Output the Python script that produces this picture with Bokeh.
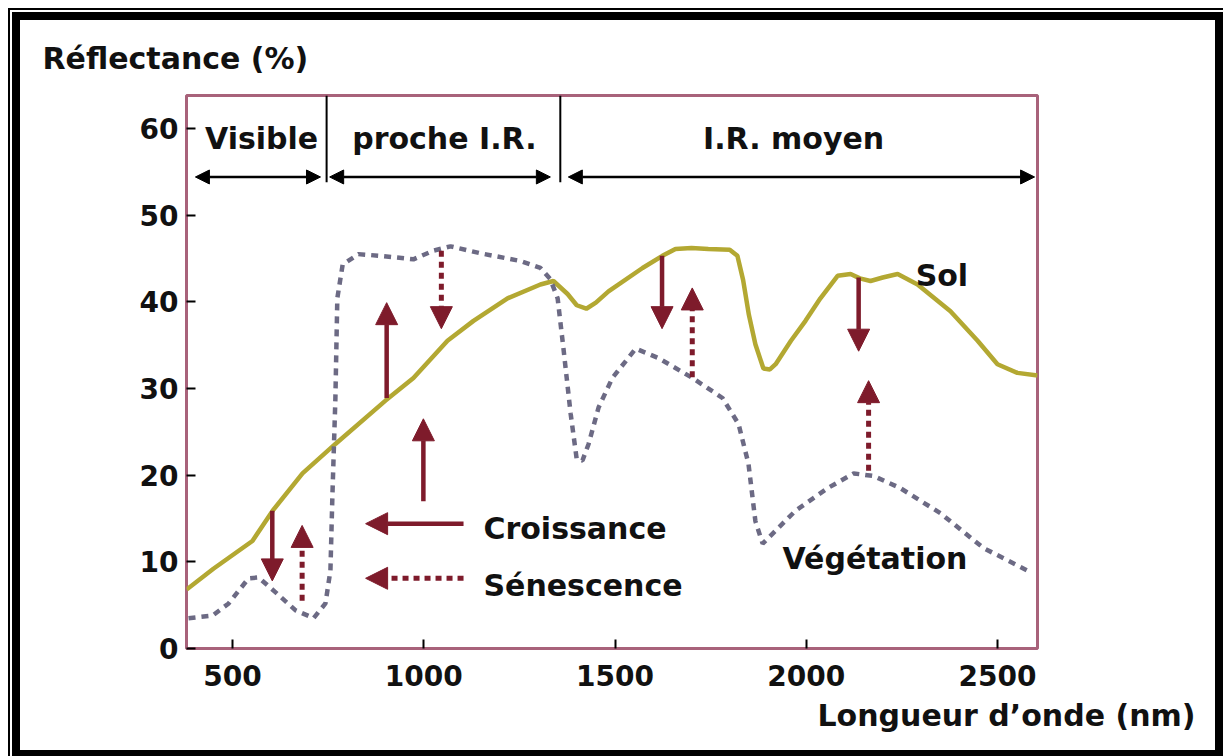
from bokeh.plotting import figure
from bokeh.models import Arrow, NormalHead, Label, ColumnDataSource, FixedTicker, Range1d, Title
from bokeh.embed import file_html
from bokeh.resources import INLINE

# ---- data ----
sol_x = [380, 450, 552, 605, 683, 769, 900, 973, 1062, 1130, 1219, 1305, 1339, 1376,
         1400, 1425, 1450, 1483, 1572, 1624, 1658, 1700, 1744, 1800, 1820, 1835, 1850,
         1867, 1888, 1905, 1920, 1960, 1998, 2037, 2082, 2116, 2140, 2168, 2200, 2239,
         2291, 2377, 2448, 2500, 2552, 2605]
sol_y = [6.8, 9.2, 12.4, 15.9, 20.2, 23.6, 28.6, 31.2, 35.5, 37.8, 40.4, 42.0, 42.4, 40.9,
         39.6, 39.2, 39.9, 41.2, 43.9, 45.3, 46.1, 46.2, 46.1, 46.0, 45.3, 42.5, 38.5,
         35.1, 32.3, 32.2, 32.8, 35.5, 37.8, 40.4, 43.0, 43.2, 42.7, 42.4, 42.8, 43.2,
         42.0, 38.9, 35.5, 32.8, 31.8, 31.5]

veg_x = [385, 448, 490, 542, 568, 612, 665, 712, 743, 756, 761, 769, 774, 788, 829, 887,
         973, 1025, 1070, 1148, 1253, 1305, 1331, 1350, 1365, 1384, 1400, 1415, 1431, 1457,
         1493, 1554, 1614, 1703, 1781, 1823, 1849, 1867, 1886, 1920, 1972, 2056, 2124,
         2176, 2246, 2351, 2463, 2578]
veg_y = [3.5, 3.8, 5.2, 8.1, 8.2, 6.5, 4.4, 3.5, 5.2, 9.0, 17.4, 28.9, 40.4, 44.3, 45.5, 45.3,
         44.9, 45.9, 46.4, 45.6, 44.7, 43.9, 42.6, 40.4, 34.7, 27.1, 21.8, 21.7, 23.6, 27.8,
         31.2, 34.6, 33.5, 31.2, 28.9, 25.9, 21.3, 14.7, 12.1, 13.6, 15.9, 18.5, 20.2,
         19.9, 18.5, 15.6, 11.6, 9.0]

# growth (solid) and senescence (dashed) arrows: wavelength, start, end reflectance
grow_x = [604, 903, 999, 1623, 2137]
grow_y0 = [15.9, 28.9, 17.0, 45.3, 42.8]
grow_y1 = [7.8, 39.9, 26.5, 36.9, 34.3]
sen_x = [682, 1046, 1702, 2163]
sen_y0 = [5.5, 45.9, 31.3, 20.5]
sen_y1 = [14.2, 36.9, 41.6, 30.9]

# spectral domains
domain_names = ["Visible", "proche I.R.", "I.R. moyen"]
domain_start = [403, 754, 1378]
domain_end = [730, 1331, 2597]
domain_bounds = [746, 1357]

x_ticks = [500, 1000, 1500, 2000, 2500]
y_ticks = [0, 10, 20, 30, 40, 50, 60]

FONT = "DejaVu Sans"
RED = "#7e1b2b"
TXT = "#111111"

W, H = 1223, 756
p = figure(width=W, height=H,
           x_range=Range1d(379.7, 2604.6), y_range=Range1d(0, 63.8),
           output_backend="svg", toolbar_location=None,
           min_border_left=186, min_border_right=W - 1037,
           min_border_top=95, min_border_bottom=H - 648)

# outer black double frame drawn behind a transparent canvas border
bars = [("8px 8px", "1215px 2px"), ("8px 8px", "2px 748px"),
        ("12px 12px", "1211px 8px"), ("12px 12px", "8px 744px"),
        ("1215px 12px", "8px 744px"), ("12px 750px", "1211px 6px")]
p.styles = {
    "background-image": ", ".join(["linear-gradient(#000, #000)"] * len(bars)),
    "background-position": ", ".join(b[0] for b in bars),
    "background-size": ", ".join(b[1] for b in bars),
    "background-repeat": "no-repeat",
    "background-color": "white",
}
p.border_fill_color = None
p.background_fill_color = "white"
p.grid.visible = False
p.outline_line_color = "#a8627a"
p.outline_line_width = 3

for ax in (p.xaxis[0], p.yaxis[0]):
    ax.axis_line_color = None
    ax.major_tick_in = 9
    ax.major_tick_out = 0
    ax.major_tick_line_color = "black"
    ax.major_tick_line_width = 2
    ax.minor_tick_line_color = None
    ax.major_label_text_font = FONT
    ax.major_label_text_font_style = "bold"
    ax.major_label_text_font_size = "28px"
    ax.major_label_text_color = TXT
p.xaxis.ticker = FixedTicker(ticks=x_ticks)
p.yaxis.ticker = FixedTicker(ticks=y_ticks)
p.xaxis.major_label_standoff = 16
p.yaxis.major_label_standoff = 8

# titles outside the frame
p.add_layout(Title(text="Réflectance (%)", align="left", offset=-144, standoff=39,
                   text_font=FONT, text_font_style="bold", text_font_size="30px",
                   text_color=TXT), "above")
p.add_layout(Title(text="Longueur d’onde (nm)", align="left", offset=631, standoff=15,
                   text_font=FONT, text_font_style="bold", text_font_size="30px",
                   text_color=TXT), "below")

# curves
p.line(sol_x, sol_y, line_color="#b3a832", line_width=4.5)
p.line(veg_x, veg_y, line_color="#6c6a84", line_width=4.5, line_dash="7 6")

# domain dividers and double arrows
top = 63.8
p.segment(x0=domain_bounds, y0=[53.8] * len(domain_bounds), x1=domain_bounds,
          y1=[top] * len(domain_bounds), line_color="black", line_width=2)
dom_src = ColumnDataSource(dict(x0=domain_start, x1=domain_end, y=[54.4] * 3))
p.add_layout(Arrow(source=dom_src, x_start="x0", x_end="x1", y_start="y", y_end="y",
                   line_color="black", line_width=2.5,
                   start=NormalHead(size=14, fill_color="black", line_color="black"),
                   end=NormalHead(size=14, fill_color="black", line_color="black")))
dom_centres = [576, 1054, 1967]
for name, cx in zip(domain_names, dom_centres):
    p.add_layout(Label(x=cx, y=58.8, text=name, text_align="center",
                       text_baseline="alphabetic", text_font=FONT,
                       text_font_style="bold", text_font_size="30px",
                       text_color=TXT))

# growth / senescence arrows
g_src = ColumnDataSource(dict(x=grow_x, y0=grow_y0, y1=grow_y1))
p.add_layout(Arrow(source=g_src, x_start="x", x_end="x", y_start="y0", y_end="y1",
                   line_color=RED, line_width=4.5,
                   end=NormalHead(size=22, fill_color=RED, line_color=RED)))
s_src = ColumnDataSource(dict(x=sen_x, y0=sen_y0, y1=sen_y1))
p.add_layout(Arrow(source=s_src, x_start="x", x_end="x", y_start="y0", y_end="y1",
                   line_color=RED, line_width=5, line_dash="6 5",
                   end=NormalHead(size=22, fill_color=RED, line_color=RED)))

# legend arrows
p.add_layout(Arrow(x_start=1104, x_end=848, y_start=14.4, y_end=14.4,
                   line_color=RED, line_width=4.5,
                   end=NormalHead(size=22, fill_color=RED, line_color=RED)))
p.add_layout(Arrow(x_start=1104, x_end=848, y_start=8.1, y_end=8.1,
                   line_color=RED, line_width=5, line_dash="6 5",
                   end=NormalHead(size=22, fill_color=RED, line_color=RED)))

texts = [("Croissance", 1156, 13.9), ("Sénescence", 1156, 7.3),
         ("Végétation", 1938, 10.4), ("Sol", 2286, 43.0)]
for t, x, y in texts:
    p.add_layout(Label(x=x, y=y, text=t, text_align="left", text_baseline="alphabetic",
                       text_font=FONT, text_font_style="bold", text_font_size="30px",
                       text_color=TXT))

open("out.html", "w").write(file_html(p, INLINE))
